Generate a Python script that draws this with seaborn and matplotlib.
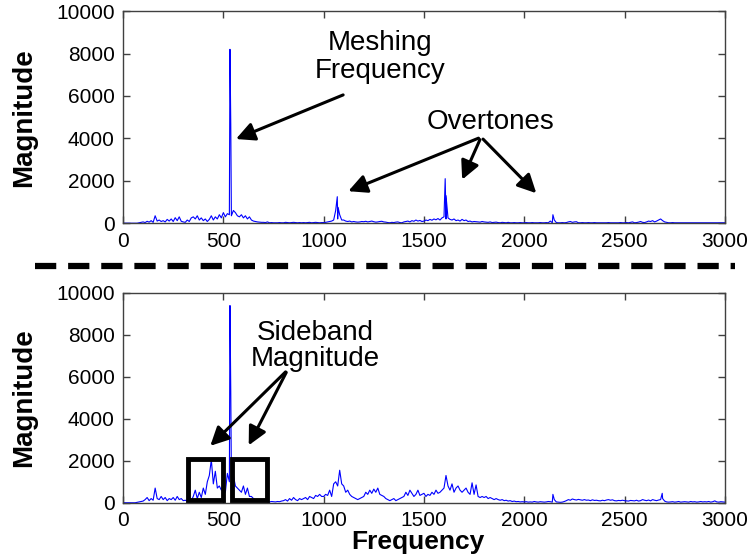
import numpy as np
import pandas as pd
import seaborn as sns
import matplotlib.pyplot as plt
from matplotlib.patches import Rectangle
from matplotlib.lines import Line2D

# frequency grid for the background spectrum (10 Hz steps)
freq = np.arange(0, 3001, 10)

# top panel: healthy gear spectrum, background values per 10 Hz
top_noise = [
    0, 0, 0, 0, 0, 0, 0, 0, 20, 40,
    60, 30, 90, 50, 120, 40, 350, 100, 150, 80,
    120, 60, 180, 100, 200, 80, 260, 120, 300, 90,
    60, 40, 150, 80, 250, 300, 200, 350, 150, 250,
    120, 200, 80, 180, 350, 150, 300, 200, 400, 250,
    500, 300, 450, 400, 350, 600, 500, 350, 300, 400,
    250, 350, 200, 300, 150, 100, 80, 60, 50, 40,
    40, 30, 60, 20, 30, 20, 20, 20, 30, 20,
    20, 40, 30, 20, 30, 40, 30, 20, 30, 20,
    30, 20, 30, 40, 20, 30, 40, 30, 20, 30,
    30, 40, 60, 80, 100, 150, 600, 200, 400, 150,
    150, 100, 80, 100, 60, 80, 60, 50, 60, 80,
    70, 90, 60, 80, 100, 70, 50, 60, 80, 90,
    60, 50, 30, 20, 40, 30, 50, 60, 30, 20,
    60, 80, 100, 60, 120, 90, 150, 100, 130, 80,
    100, 150, 120, 180, 140, 200, 160, 220, 150, 250,
    300, 200, 250, 180, 150, 200, 120, 150, 100, 180,
    120, 150, 80, 100, 60, 80, 70, 60, 50, 80,
    60, 50, 40, 60, 30, 40, 50, 30, 20, 40,
    30, 20, 40, 20, 20, 30, 20, 20, 30, 20,
    20, 30, 20, 20, 30, 20, 20, 20, 30, 20,
    20, 30, 20, 100, 20, 150, 30, 20, 20, 30,
    20, 30, 60, 80, 40, 60, 70, 20, 20, 30,
    20, 20, 30, 20, 20, 30, 20, 20, 20, 20,
    20, 20, 30, 20, 20, 20, 20, 20, 30, 20,
    20, 30, 20, 40, 60, 20, 30, 50, 80, 40,
    30, 60, 100, 80, 120, 60, 100, 150, 200, 120,
    60, 40, 20, 20, 30, 20, 20, 20, 20, 20,
    20, 20, 20, 20, 20, 20, 20, 20, 20, 20,
    20, 20, 20, 20, 20, 20, 20, 20, 20, 20,
    20,
]
top_peak_freq = [533, 537, 1068, 1072, 1606, 1610, 2143]
top_peak_mag = [8200, 4650, 1250, 750, 2100, 1300, 400]

# bottom panel: damaged gear spectrum
bottom_noise = [
    0, 0, 0, 0, 0, 0, 0, 20, 40, 60,
    80, 150, 250, 100, 200, 120, 700, 200, 150, 300,
    150, 250, 100, 200, 150, 250, 120, 300, 150, 200,
    100, 120, 80, 150, 100, 300, 600, 200, 500, 250,
    700, 400, 1000, 1300, 2050, 900, 1500, 700, 800, 600,
    800, 500, 1400, 1000, 1200, 1300, 800, 700, 600, 500,
    800, 400, 700, 300, 300, 200, 150, 100, 150, 100,
    80, 100, 50, 40, 60, 50, 40, 60, 50, 80,
    100, 150, 80, 200, 120, 250, 150, 100, 200, 150,
    200, 250, 150, 300, 250, 200, 350, 300, 400, 300,
    300, 400, 350, 600, 300, 900, 1000, 800, 1550, 900,
    800, 500, 600, 400, 300, 250, 200, 150, 200, 250,
    300, 500, 400, 600, 450, 650, 500, 700, 400, 350,
    300, 200, 150, 100, 150, 200, 100, 150, 200, 250,
    300, 500, 350, 600, 450, 300, 400, 600, 350, 400,
    450, 300, 400, 350, 500, 400, 600, 450, 500, 600,
    700, 1300, 800, 600, 900, 500, 700, 800, 600, 500,
    600, 700, 500, 400, 950, 400, 850, 300, 250, 300,
    250, 300, 200, 250, 200, 150, 200, 150, 120, 150,
    100, 120, 80, 100, 60, 80, 50, 60, 40, 50,
    40, 50, 30, 40, 30, 60, 40, 30, 50, 40,
    30, 40, 60, 50, 30, 150, 40, 30, 20, 30,
    60, 100, 150, 120, 180, 150, 130, 160, 140, 120,
    150, 120, 130, 100, 140, 110, 120, 100, 90, 120,
    100, 130, 150, 120, 140, 100, 90, 110, 100, 120,
    100, 90, 80, 110, 100, 90, 120, 80, 100, 150,
    120, 100, 130, 90, 150, 120, 100, 130, 150, 200,
    80, 40, 30, 40, 50, 30, 40, 60, 30, 40,
    50, 40, 30, 60, 40, 50, 30, 40, 60, 40,
    50, 40, 60, 30, 50, 90, 40, 30, 50, 40,
    30,
]
bottom_peak_freq = [533, 537, 2143, 2688]
bottom_peak_mag = [9400, 5300, 400, 450]

top = pd.DataFrame({'Frequency': np.concatenate([freq, top_peak_freq]),
                    'Magnitude': np.concatenate([top_noise, top_peak_mag])})
bottom = pd.DataFrame({'Frequency': np.concatenate([freq, bottom_peak_freq]),
                       'Magnitude': np.concatenate([bottom_noise, bottom_peak_mag])})

sns.set_style('ticks')
plt.rcParams['font.family'] = ['Liberation Sans', 'DejaVu Sans']
plt.rcParams['xtick.direction'] = 'in'
plt.rcParams['ytick.direction'] = 'in'
plt.rcParams['text.color'] = 'black'
plt.rcParams['axes.labelcolor'] = 'black'
plt.rcParams['xtick.labelcolor'] = 'black'
plt.rcParams['ytick.labelcolor'] = 'black'

fig = plt.figure(figsize=(7.55, 5.58), dpi=100)
ax1 = fig.add_axes([0.163, 0.600, 0.797, 0.380])
ax2 = fig.add_axes([0.163, 0.099, 0.797, 0.376])

for ax, df in [(ax1, top), (ax2, bottom)]:
    sns.lineplot(data=df, x='Frequency', y='Magnitude', ax=ax, color='blue',
                 lw=0.8, estimator=None, sort=True)
    ax.set_xlim(0, 3000)
    ax.set_ylim(0, 10000)
    ax.set_xticks(range(0, 3001, 500))
    ax.set_yticks(range(0, 10001, 2000))
    ax.tick_params(axis='both', labelsize=15, length=5, width=1, color='#404040',
                   labelcolor='black', top=True, right=True, pad=6)
    for s in ax.spines.values():
        s.set_visible(True)
        s.set_color('#404040')
        s.set_linewidth(1)
    ax.set_xlabel('')
    ax.set_ylabel('Magnitude', fontsize=20, fontweight='bold', color='black')
    ax.yaxis.set_label_coords(-0.143, 0.5)

ax2.set_xlabel('Frequency', fontsize=19, fontweight='bold', color='black')
ax2.xaxis.set_label_coords(0.49, -0.128)

arrow = dict(arrowstyle='-|>', mutation_scale=28, lw=2.2, color='black')

# top annotations
ax1.text(1280, 7850, 'Meshing\nFrequency', fontsize=20, ha='center', va='center',
         linespacing=1.1, color='black')
ax1.annotate('', xy=(550, 3920), xytext=(1110, 6100), arrowprops=arrow)
ax1.text(1830, 4770, 'Overtones', fontsize=20, ha='center', va='center', color='black')
for tip in [(1110, 1460), (1685, 1935), (2070, 1320)]:
    ax1.annotate('', xy=tip, xytext=(1785, 4060), arrowprops=arrow)

# bottom annotations
ax2.text(960, 7450, 'Sideband\nMagnitude', fontsize=20, ha='center', va='center',
         linespacing=1.0, color='black')
for tip in [(425, 2620), (620, 2620)]:
    ax2.annotate('', xy=tip, xytext=(820, 6330), arrowprops=arrow)
ax2.add_patch(Rectangle((325, 150), 175, 1950, fill=False, lw=3.5, ec='black', zorder=5))
ax2.add_patch(Rectangle((545, 150), 175, 1950, fill=False, lw=3.5, ec='black', zorder=5))

# dashed separator between the panels
fig.add_artist(Line2D([35 / 755, 735 / 755], [0.523, 0.523], transform=fig.transFigure,
                      color='black', lw=4.5, dashes=(3.4, 1.9), solid_capstyle='butt'))

fig.savefig('out.png', dpi=100)
